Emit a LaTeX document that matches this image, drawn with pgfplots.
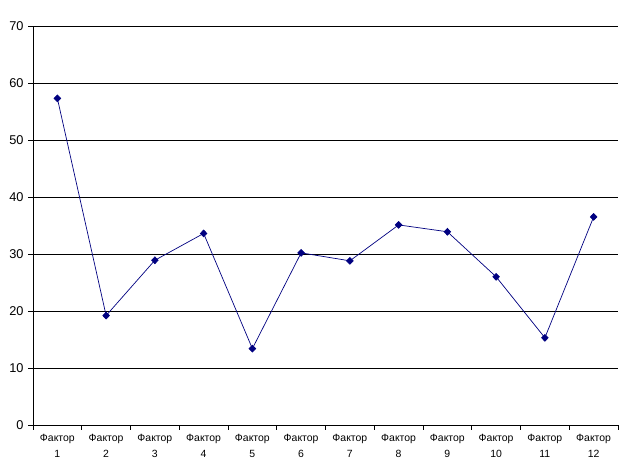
\documentclass[border=0pt]{standalone}
\usepackage{fontspec}
\setmainfont{Liberation Sans}
\usepackage{pgfplots}
\pgfplotsset{compat=1.18}
\definecolor{navyline}{RGB}{0,0,128}
\begin{document}
\begin{tikzpicture}
\begin{axis}[
  scale only axis,
  width=585bp, height=399bp,
  xmin=0.5, xmax=12.5,
  ymin=0, ymax=70,
  ytick={0,10,...,70},
  xtick={1,...,12},
  xticklabels={{Фактор\\1},{Фактор\\2},{Фактор\\3},{Фактор\\4},{Фактор\\5},{Фактор\\6},{Фактор\\7},{Фактор\\8},{Фактор\\9},{Фактор\\10},{Фактор\\11},{Фактор\\12}},
  minor xtick={0.5,1.5,...,12.5},
  axis x line*=bottom,
  axis y line*=left,
  axis line style={black, line width=0.9pt},
  tick align=outside,
  major tick length=5bp,
  minor tick length=5bp,
  tick style={black, line width=0.8pt},
  x tick style={draw=none},
  minor x tick style={draw=black, line width=0.8pt},
  ymajorgrids,
  grid style={black, line width=0.9pt},
  /pgf/number format/assume math mode=true,
  yticklabel style={font=\fontsize{12.8}{13}\selectfont, xshift=-1bp},
  xticklabel style={font=\fontsize{10.5}{16}\selectfont, align=center, yshift=-1bp},
  clip=false,
]
\addplot[color=navyline, line width=0.7pt, mark=diamond*, mark size=3.4bp, mark options={fill=navyline, draw=navyline, xscale=1.3}]
coordinates {
(1,57.3) (2,19.2) (3,28.9) (4,33.6) (5,13.4) (6,30.2) (7,28.8) (8,35.1) (9,33.9) (10,26.0) (11,15.3) (12,36.5)
};
\end{axis}
\path (current axis.south west) ++(-33bp,-48bp) coordinate (bbsw);
\path (current axis.north east) ++(5bp,26bp) coordinate (bbne);
\useasboundingbox (bbsw) rectangle (bbne);
\end{tikzpicture}
\end{document}
